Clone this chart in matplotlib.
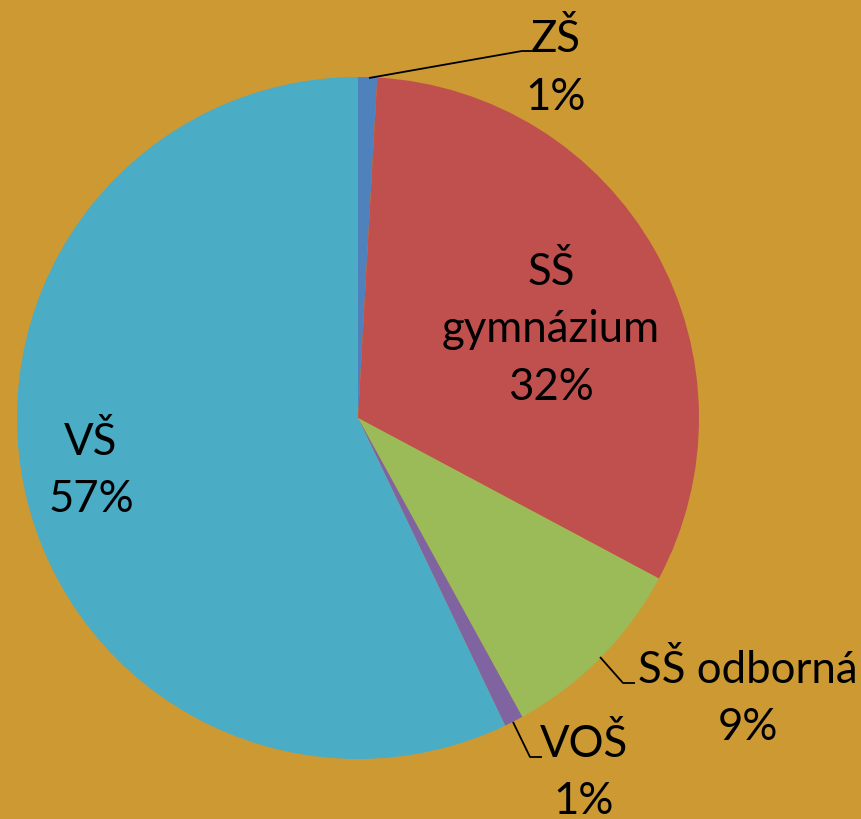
import matplotlib
matplotlib.use("Agg")
import matplotlib.pyplot as plt

categories = ["ZŠ", "SŠ gymnázium", "SŠ odborná", "VOŠ", "VŠ"]
values = [0.9, 31.9, 9.2, 0.9, 57.1]
colors = ["#4F81BD", "#C0504D", "#9BBB59", "#8064A2", "#4BACC6"]
bg = "#CC9933"

W, H = 862, 819
fig = plt.figure(figsize=(W / 100, H / 100), dpi=100, facecolor=bg)
ax = fig.add_axes([0, 0, 1, 1])
ax.set_xlim(0, W)
ax.set_ylim(0, H)
ax.set_aspect("equal")
ax.axis("off")

def Y(y):
    return H - y

cx, cy, r = 358, 418, 341
ax.pie(values, colors=colors, startangle=90, counterclock=False,
       center=(cx, Y(cy)), radius=r, frame=True,
       wedgeprops=dict(linewidth=0))
ax.set_xlim(0, W)
ax.set_ylim(0, H)
ax.axis("off")

pct = [f"{v:.0f}%" for v in values]
font = dict(family=["Lato", "DejaVu Sans"], fontsize=31.5, color="black")

# label lines: (text lines, center x, baseline of first line)
lines = {
    0: (["ZŠ"], 556, 52),
    1: (["SŠ", "gymnázium"], 551, 285),
    2: (["SŠ odborná"], 748, 683),
    3: (["VOŠ"], 584, 757),
    4: (["VŠ"], 91, 455),
}
step = 57.5
for i, (txt, x, y0) in lines.items():
    all_lines = txt + [pct[i]]
    for k, t in enumerate(all_lines):
        ax.text(x, Y(y0 + k * step), t, ha="center", va="baseline", **font)

# leader lines
leaders = [
    [(369, 78), (522, 51), (532, 51)],
    [(600, 657), (623, 683), (635, 683)],
    [(513, 722), (530, 757), (542, 757)],
]
for pts in leaders:
    ax.plot([p[0] for p in pts], [Y(p[1]) for p in pts], color="black", lw=1.3,
            solid_capstyle="butt")

fig.savefig("out.png", dpi=100, facecolor=bg)
